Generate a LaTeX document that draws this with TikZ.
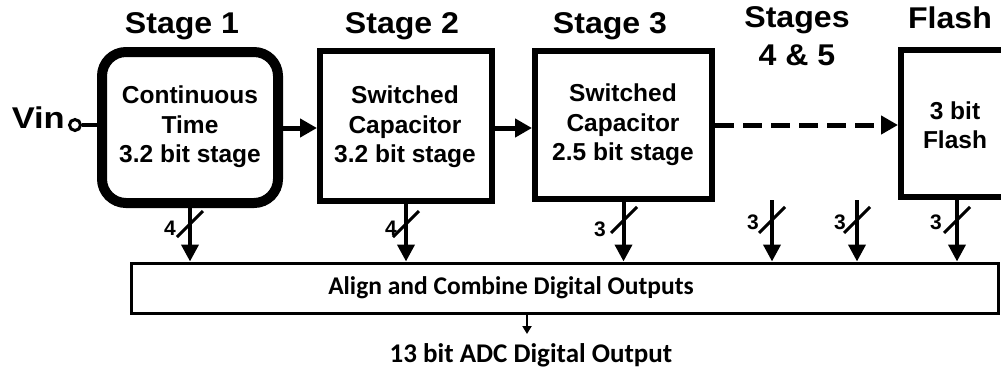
\documentclass[tikz,border=0pt]{standalone}
\usepackage{fontspec}
\setmainfont{Liberation Sans}
\newfontfamily\ttlfont{Liberation Sans}[FakeStretch=1.07]
\newfontfamily\vinfont{Liberation Sans}[FakeStretch=1.15]
\newfontfamily\calfont{Carlito}
\usetikzlibrary{arrows.meta}
\begin{document}
\begin{tikzpicture}[x=1pt,y=-1pt,
  title/.style={font=\ttlfont\bfseries\fontsize{30}{32}\selectfont, anchor=base, inner sep=0pt},
  boxtext/.style={font=\bfseries\fontsize{24.5}{29.5}\selectfont, align=center, inner sep=0pt},
  stagebox/.style={draw, line width=6pt, inner sep=0pt},
  bigarrow/.style={line width=5pt, -{Triangle[length=17pt,width=18pt]}},
  busarrow/.style={line width=4pt, -{Triangle[length=17pt,width=17pt]}},
  slash/.style={line width=3pt},
  buslabel/.style={font=\bfseries\fontsize{21}{23}\selectfont, inner sep=0pt},
  caltext/.style={font=\calfont\bfseries\fontsize{25.5}{28}\selectfont, inner sep=0pt}
]
\path[use as bounding box] (0,0) rectangle (1001,373);
\clip (0,0) rectangle (1001,373);

% titles
\node[title] (t1) at (182,33) {Stage 1};
\node[title] (t2) at (402,33) {Stage 2};
\node[title] (t3) at (610,33) {Stage 3};
\node[title] (t4) at (797,27) {Stages};
\node[title] (t45) at (797,65) {4 \& 5};
\node[title] (t5) at (950,28) {Flash};

% stage boxes
\node[stagebox, line width=10pt, rounded corners=24pt, minimum width=176pt, minimum height=151pt] (s1) at (190,127.5) {};
\node[boxtext] (s1t) at (190,127) {Continuous\\Time\\3.2 bit stage};
\node[stagebox, minimum width=172pt, minimum height=150pt] (s2) at (406,126) {};
\node[boxtext] (s2t) at (405,127) {Switched\\Capacitor\\3.2 bit stage};
\node[stagebox, minimum width=177pt, minimum height=148pt] (s3) at (623.5,125) {};
\node[boxtext] (s3t) at (623,125) {Switched\\Capacitor\\2.5 bit stage};
\node[stagebox, minimum width=180pt, minimum height=147pt] (fl) at (991,123.5) {};
\node[boxtext] (flt) at (955,125) {3 bit\\Flash};

% input
\node[font=\vinfont\bfseries\fontsize{30}{32}\selectfont, anchor=base east, inner sep=0pt] (vin) at (65,128) {Vin};
\node[circle, draw, line width=3pt, minimum size=11pt, inner sep=0pt] (vc) at (75,125) {};
\draw[line width=4pt] (vc.east) -- (vc.east -| s1.west);

% chain arrows
\draw[bigarrow] (s1.east |- 0,128) -- (s2.west |- 0,128);
\draw[bigarrow] (s2.east |- 0,128) -- (s3.west |- 0,128);
\draw[bigarrow, dash pattern=on 19pt off 9pt] (s3.east |- 0,125) -- (fl.west |- 0,125);

% combine box
\node[draw, line width=3pt, minimum width=867.5pt, minimum height=50pt, inner sep=0pt] (comb) at (565,288) {};
\node[caltext] (combt) at (511,288) {Align and Combine Digital Outputs};

% outputs
\coordinate (o4) at (772,200);
\coordinate (o5) at (857,200);
\coordinate (ofx) at (957,0);
\draw[busarrow] (s1.south) -- (s1.south |- comb.north);
\draw[busarrow] (s2.south) -- (s2.south |- comb.north);
\draw[busarrow] (s3.south) -- (s3.south |- comb.north);
\draw[busarrow] (o4) -- (o4 |- comb.north);
\draw[busarrow] (o5) -- (o5 |- comb.north);
\draw[busarrow] (fl.south -| ofx) -- (ofx |- comb.north);

% bus slashes
\draw[slash] (190,224) ++(-13,13) -- ++(26,-26);
\draw[slash] (406,224) ++(-13,13) -- ++(26,-26);
\draw[slash] (624,220) ++(-13,13) -- ++(26,-26);
\draw[slash] (772,220) ++(-13,13) -- ++(26,-26);
\draw[slash] (857,220) ++(-13,13) -- ++(26,-26);
\draw[slash] (957,220) ++(-13,13) -- ++(26,-26);

% bus labels
\node[buslabel] (l1) at (170,228) {4};
\node[buslabel] (l2) at (391,228) {4};
\node[buslabel] (l3) at (600,229) {3};
\node[buslabel] (l4) at (753,222) {3};
\node[buslabel] (l5) at (840,222) {3};
\node[buslabel] (l6) at (936,222) {3};

% final output
\node[caltext, font=\calfont\bfseries\fontsize{27}{30}\selectfont, anchor=base] (out) at (531,362) {13 bit ADC Digital Output};
\coordinate (otip) at (527,334);
\draw[line width=2pt, -{Triangle[length=8pt,width=9pt]}] (comb.south -| otip) -- (otip);
\end{tikzpicture}
\end{document}
